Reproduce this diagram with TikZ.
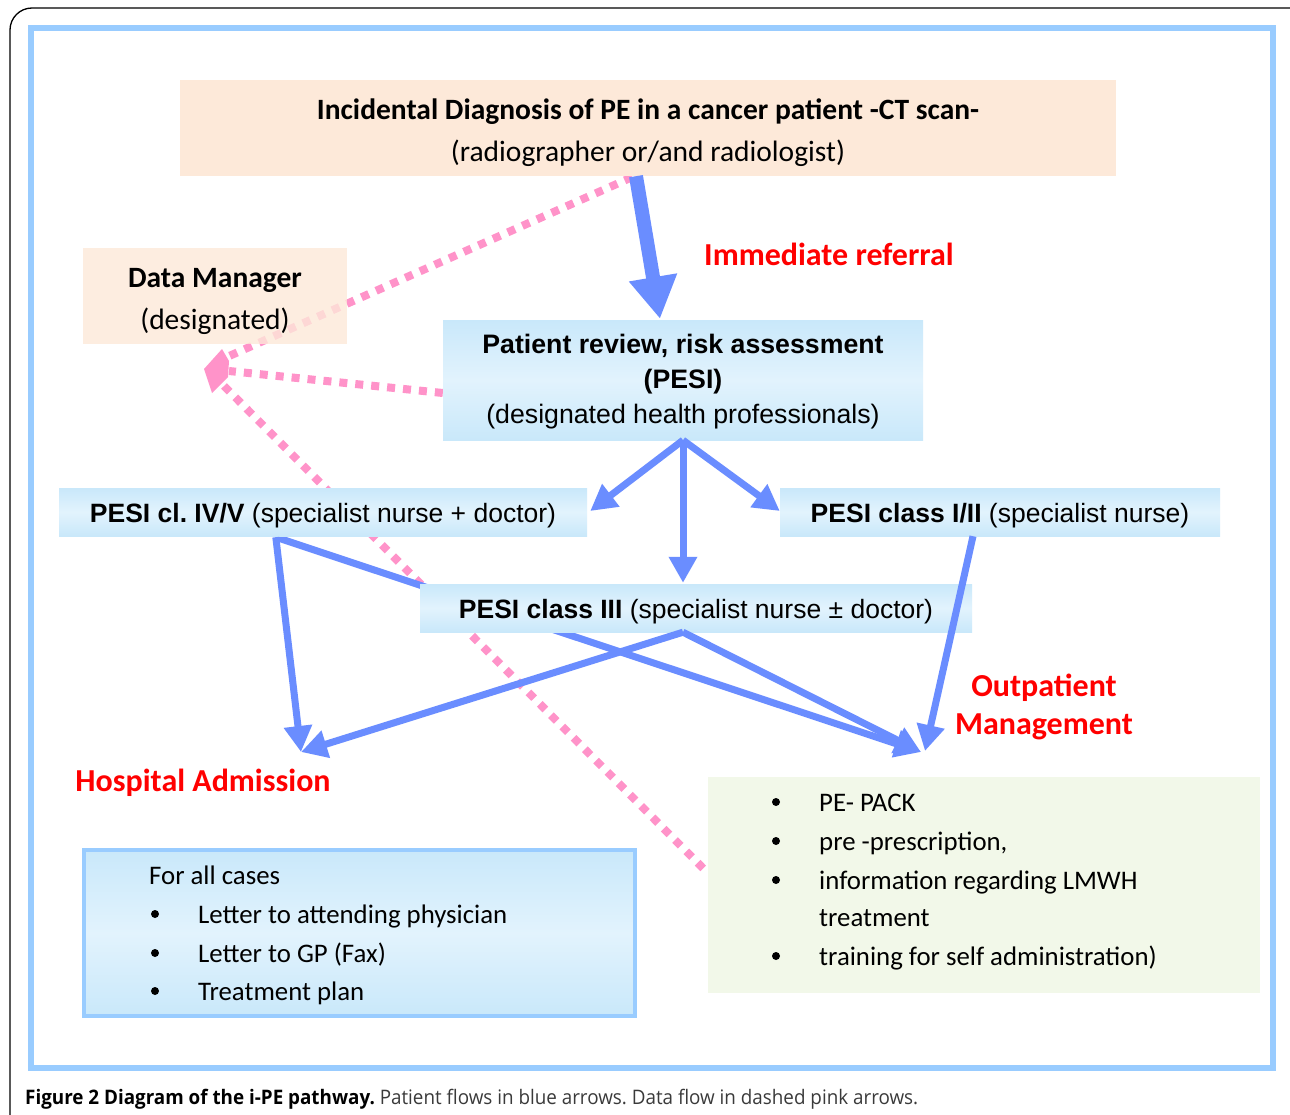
\documentclass[tikz,border=0pt]{standalone}
\usepackage{fontspec}
\usepackage{graphicx}
\setmainfont{Carlito}
\newfontfamily\arialf{Liberation Sans}
\newfontfamily\capfont{Open Sans}
\usetikzlibrary{arrows.meta,calc}
\pgfdeclarelayer{back}
\pgfdeclarelayer{bg}
\pgfsetlayers{back,bg,main}
\definecolor{peach}{HTML}{FDE9D9}
\definecolor{frameblue}{HTML}{99CCFF}
\definecolor{boxedge}{HTML}{C9E8FA}
\definecolor{boxmid}{HTML}{E2F3FD}
\definecolor{flowblue}{HTML}{6A8DFF}
\definecolor{dpink}{HTML}{FF93C9}
\definecolor{pale}{HTML}{F2F8E9}
\definecolor{capgray}{HTML}{3A3A3A}
\frenchspacing
\begin{document}
\begin{tikzpicture}[x=1pt,y=-1pt,
  box/.style={inner sep=0pt, align=center},
  peachbox/.style={box, fill=peach},
  bluebox/.style={box, top color=boxedge, bottom color=boxedge, middle color=boxmid},
  blueflow/.style={draw=flowblue, fill=flowblue, line width=7pt, -{Triangle[length=26pt,width=27pt]}},
  pinkline/.style={draw=dpink, line width=8pt, dash pattern=on 8pt off 8pt},
  redlabel/.style={text=red, font=\fontsize{32}{38}\selectfont\bfseries, align=center, inner sep=0pt},
  listtext/.style={anchor=base west, inner sep=0pt, font=\fontsize{26.8}{30}\selectfont},
  bigtext/.style={font=\fontsize{29.5}{42}\selectfont},
  pesitext/.style={font=\arialf\fontsize{26.5}{30}\selectfont, text height=26pt, text depth=6pt}
]
\path[use as bounding box, clip] (0,0) rectangle (1290,1115);
\begin{pgfonlayer}{back}
\fill[white] (0,0) rectangle (1290,1115);
\end{pgfonlayer}
% outer frames
\draw[line width=1.3pt, rounded corners=22pt] (10,8) rectangle (1320,1150);
\draw[frameblue, line width=5.5pt] (31,28) rectangle (1273,1068);

% boxes
\node[peachbox, bigtext, minimum width=936pt, minimum height=96pt] (top) at (648,128)
  {\rule{0pt}{30pt}\textbf{Incidental Diagnosis of PE in a cancer patient -CT scan-}\\(radiographer or/and radiologist)};
\node[box, fill=peach, fill opacity=0.8, text opacity=1, bigtext, minimum width=264pt, minimum height=96pt] (dm) at (215,296)
  {\rule{0pt}{30pt}\textbf{Data Manager}\\(designated)};
\node[bluebox, font=\arialf\fontsize{26.7}{35}\selectfont, minimum width=480pt, minimum height=120pt] (pr) at (683,380)
  {\rule{0pt}{22pt}\textbf{Patient review, risk assessment}\\\textbf{(PESI)}\\(designated health professionals)};
\node[bluebox, pesitext, minimum width=528pt, minimum height=48pt] (p45) at (323,512)
  {\textbf{PESI cl. IV/V} (specialist nurse + doctor)};
\node[bluebox, pesitext, minimum width=440pt, minimum height=48pt] (p12) at (1000,512)
  {\textbf{PESI class I/II} (specialist nurse)};
\node[bluebox, pesitext, minimum width=552pt, minimum height=48pt] (p3) at (696,608)
  {\textbf{PESI class III} (specialist nurse ± doctor)};
\node[box, fill=pale, minimum width=552pt, minimum height=216pt] (outbox) at (984,885) {};
\node[bluebox, draw=frameblue, line width=4pt, minimum width=551pt, minimum height=166pt] (allc) at (359.5,933) {};

% red labels
\node[redlabel] (lref) at (829,254) {Immediate referral};
\node[redlabel] (lout) at (1044,707) {Outpatient\\Management};
\node[redlabel] (lhosp) at (203,783) {Hospital Admission};

% coordinates for arrow targets
\coordinate (hosp) at (301,752);
\coordinate (outp) at (921,752);
\coordinate (outq) at (925,751);

% data flow (pink) and hidden flow behind boxes
\begin{pgfonlayer}{bg}
\coordinate (dA) at (227,357);
\coordinate (dB) at (229,371);
\coordinate (dC) at (224,386);
\draw[pinkline] ($(top.south)+(-16,1)$) -- (dA);
\draw[pinkline] ($(pr.west)+(0,13)$) -- (dB);
\draw[pinkline] (dC) -- ($(outbox.west)+(0,-12)$);
\fill[dpink] (204,369) -- (222,349) -- (229,361) -- (228,377) -- (212,393) -- cycle;
\draw[blueflow] ($(p45.south west)+(217,1)$) -- (outp);
\end{pgfonlayer}

% patient flow arrows
\draw[draw=flowblue, fill=flowblue, line width=14pt, -{Triangle[length=42pt,width=46pt]}]
  ($(top.south)+(-12,0)$) -- ($(pr.north)+(-23,-1)$);
\draw[blueflow] (pr.south) -- ($(p45.east)+(3,-1)$);
\draw[blueflow] (pr.south) -- ($(p3.north)+(-13,-1)$);
\draw[blueflow] (pr.south) -- ($(p12.west)+(0,-1)$);
\draw[blueflow] ($(p45.south west)+(217,1)$) -- (hosp);
\draw[blueflow] ($(p3.south)+(-13,0)$) -- (hosp);
\draw[blueflow] ($(p3.south)+(-13,0)$) -- (outp);
\draw[blueflow] ($(p12.south)+(-27,0)$) -- (outq);

% list in blue box
\node[listtext] (ac0) at (149,884) {For all cases};
\node[listtext] (ac1) at (198,923) {Letter to attending physician};
\node[listtext] (ac2) at (198,962) {Letter to GP (Fax)};
\node[listtext] (ac3) at (198,1000) {Treatment plan};
\fill (155,914) circle (4pt);
\fill (155,953) circle (4pt);
\fill (155,991) circle (4pt);

% list in green box
\node[listtext] (g1) at (819,811) {PE- PACK};
\node[listtext] (g2) at (819,850) {pre -prescription,};
\node[listtext] (g3) at (819,889) {information regarding LMWH};
\node[listtext] (g4) at (819,926) {treatment};
\node[listtext] (g5) at (819,965) {training for self administration)};
\fill (776,802) circle (4pt);
\fill (776,841) circle (4pt);
\fill (776,880) circle (4pt);
\fill (776,956) circle (4pt);

% caption
\node[anchor=base west, inner sep=0pt] (cap) at (25,1104)
  {\resizebox{893pt}{\height}{\capfont\fontsize{20}{24}\selectfont\textbf{Figure 2 Diagram of the i-PE pathway.} \color{capgray}Patient flows in blue arrows. Data flow in dashed pink arrows.}};
\end{tikzpicture}
\end{document}
